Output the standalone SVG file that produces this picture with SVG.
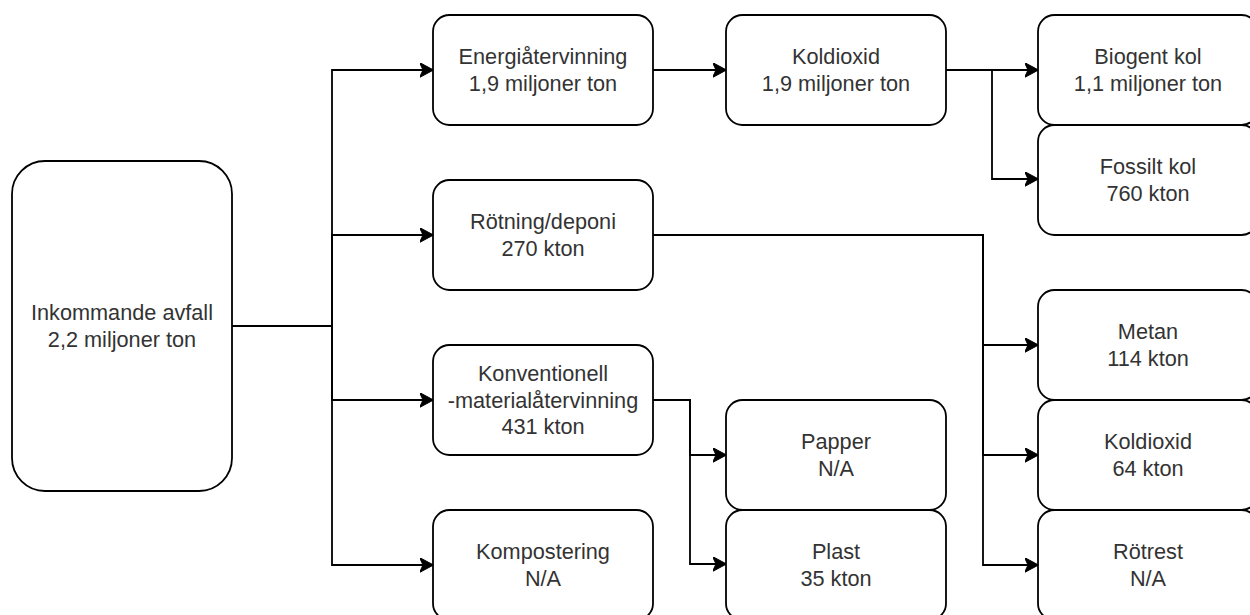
<svg xmlns="http://www.w3.org/2000/svg" width="1250" height="615" viewBox="0 0 1250 615">
  <style>
    .node rect { fill: #ffffff; stroke: #000000; stroke-width: 1.8; }
    .node text { font-family: "Liberation Sans", Arial, sans-serif; font-size: 21.7px; fill: #333333; text-anchor: middle; }
    .conn path { fill: none; stroke: #000000; stroke-width: 1.8; marker-end: url(#arrow); }
  </style>
  <defs>
    <marker id="arrow" markerUnits="userSpaceOnUse" viewBox="0 0 14 15" refX="13.5" refY="7.5" markerWidth="14" markerHeight="15" orient="auto">
      <path d="M0,0 L14,7.5 L0,15 L3.5,7.5 Z" fill="#000000" stroke="#000000" stroke-width="1"/>
    </marker>
  </defs>
  <rect width="1250" height="615" fill="#ffffff"/>

  <g id="connectors" class="conn">
    <path d="M232,326 H332 V70 H433"/>
    <path d="M232,326 H332 V235 H433"/>
    <path d="M232,326 H332 V400 H433"/>
    <path d="M232,326 H332 V565 H433"/>
    <path d="M653,70 H726"/>
    <path d="M946,70 H1038"/>
    <path d="M946,70 H992 V179 H1038"/>
    <path d="M653,235 H983 V345 H1038"/>
    <path d="M653,235 H983 V455 H1038"/>
    <path d="M653,235 H983 V565 H1038"/>
    <path d="M653,400 H690 V455 H726"/>
    <path d="M653,400 H690 V564 H726"/>
  </g>

  <g id="inkommande" class="node">
    <rect x="12" y="161" width="220" height="330" rx="33" ry="33"/>
    <text x="122" y="320">Inkommande avfall</text>
    <text x="122" y="346.5">2,2 miljoner ton</text>
  </g>
  <g id="energi" class="node">
    <rect x="433" y="15" width="220" height="110" rx="16.5" ry="16.5"/>
    <text x="543" y="64">Energiåtervinning</text>
    <text x="543" y="90.5">1,9 miljoner ton</text>
  </g>
  <g id="rotning" class="node">
    <rect x="433" y="180" width="220" height="110" rx="16.5" ry="16.5"/>
    <text x="543" y="229">Rötning/deponi</text>
    <text x="543" y="255.5">270 kton</text>
  </g>
  <g id="konventionell" class="node">
    <rect x="433" y="345" width="220" height="110" rx="16.5" ry="16.5"/>
    <text x="543" y="381">Konventionell</text>
    <text x="543" y="407.5">-materialåtervinning</text>
    <text x="543" y="433.5">431 kton</text>
  </g>
  <g id="kompostering" class="node">
    <rect x="433" y="510" width="220" height="110" rx="16.5" ry="16.5"/>
    <text x="543" y="559">Kompostering</text>
    <text x="543" y="585.5">N/A</text>
  </g>
  <g id="koldioxid1" class="node">
    <rect x="726" y="15" width="220" height="110" rx="16.5" ry="16.5"/>
    <text x="836" y="64">Koldioxid</text>
    <text x="836" y="90.5">1,9 miljoner ton</text>
  </g>
  <g id="papper" class="node">
    <rect x="726" y="400" width="220" height="110" rx="16.5" ry="16.5"/>
    <text x="836" y="449">Papper</text>
    <text x="836" y="475.5">N/A</text>
  </g>
  <g id="plast" class="node">
    <rect x="726" y="510" width="220" height="110" rx="16.5" ry="16.5"/>
    <text x="836" y="559">Plast</text>
    <text x="836" y="585.5">35 kton</text>
  </g>
  <g id="biogent" class="node">
    <rect x="1038" y="15" width="220" height="110" rx="16.5" ry="16.5"/>
    <text x="1148" y="64">Biogent kol</text>
    <text x="1148" y="90.5">1,1 miljoner ton</text>
  </g>
  <g id="fossilt" class="node">
    <rect x="1038" y="125" width="220" height="110" rx="16.5" ry="16.5"/>
    <text x="1148" y="174">Fossilt kol</text>
    <text x="1148" y="200.5">760 kton</text>
  </g>
  <g id="metan" class="node">
    <rect x="1038" y="290" width="220" height="110" rx="16.5" ry="16.5"/>
    <text x="1148" y="339">Metan</text>
    <text x="1148" y="365.5">114 kton</text>
  </g>
  <g id="koldioxid2" class="node">
    <rect x="1038" y="400" width="220" height="110" rx="16.5" ry="16.5"/>
    <text x="1148" y="449">Koldioxid</text>
    <text x="1148" y="475.5">64 kton</text>
  </g>
  <g id="rotrest" class="node">
    <rect x="1038" y="510" width="220" height="110" rx="16.5" ry="16.5"/>
    <text x="1148" y="559">Rötrest</text>
    <text x="1148" y="585.5">N/A</text>
  </g>
</svg>
